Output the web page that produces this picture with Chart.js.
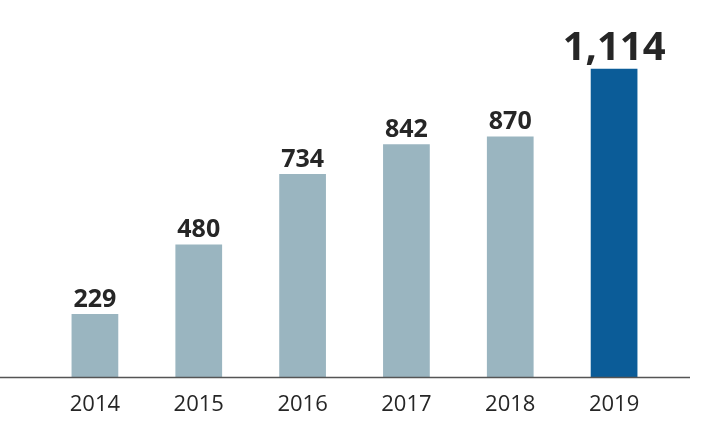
<!DOCTYPE html>
<html>
<head>
<meta charset="utf-8">
<script src="https://cdn.jsdelivr.net/npm/chart.js@4/dist/chart.umd.min.js"></script>
<style>
  html, body { margin: 0; padding: 0; background: #fff; }
  #wrap { width: 705px; height: 430px; }
</style>
</head>
<body>
<div id="wrap"><canvas id="chart"></canvas></div>
<script>
const years = ['2014', '2015', '2016', '2017', '2018', '2019'];
const values = [229, 480, 734, 842, 870, 1114];
const barColors = ['#9ab5c0', '#9ab5c0', '#9ab5c0', '#9ab5c0', '#9ab5c0', '#0b5c98'];

const valueLabels = {
    id: 'valueLabels',
    afterDatasetsDraw(chart) {
        const ctx = chart.ctx;
        const meta = chart.getDatasetMeta(0);
        ctx.save();
        ctx.fillStyle = '#262626';
        ctx.textAlign = 'center';
        ctx.textBaseline = 'bottom';
        meta.data.forEach((bar, i) => {
            const last = i === values.length - 1;
            ctx.font = 'bold ' + (last ? 40 : 25) + 'px "Open Sans"';
            ctx.fillText(values[i].toLocaleString('en-US'), bar.x, bar.y - (last ? 0 : 2));
        });
        // baseline across the figure
        const y = chart.scales.y.getPixelForValue(0);
        ctx.strokeStyle = '#555';
        ctx.lineWidth = 1.5;
        ctx.beginPath();
        ctx.moveTo(0, y);
        ctx.lineTo(690, y);
        ctx.stroke();
        ctx.restore();
    }
};

new Chart(document.getElementById('chart'), {
    type: 'bar',
    data: {
        labels: years,
        datasets: [{
            data: values,
            backgroundColor: barColors,
            barPercentage: 0.45,
            categoryPercentage: 1
        }]
    },
    options: {
        responsive: true,
        maintainAspectRatio: false,
        animation: false,
        layout: { padding: { left: 43, right: 39, top: 0, bottom: 6 } },
        plugins: { legend: { display: false }, tooltip: { enabled: false } },
        scales: {
            x: {
                grid: { display: false },
                border: { display: false },
                ticks: { color: '#262626', font: { family: 'Open Sans', size: 22 }, padding: 6 }
            },
            y: {
                display: false,
                min: 0,
                max: 1362
            }
        }
    },
    plugins: [valueLabels]
});
</script>
</body>
</html>
